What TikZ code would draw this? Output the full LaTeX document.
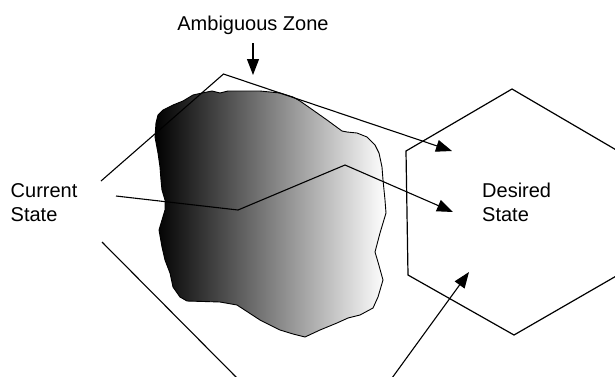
\documentclass[tikz,border=0pt]{standalone}
\usepackage{fontspec}
\setmainfont{Liberation Sans}
\usetikzlibrary{arrows.meta}

\begin{document}
\begin{tikzpicture}[
      x=1pt, y=-1pt,
      font=\fontsize{20}{24}\selectfont,
      lbl/.style={inner sep=0pt, align=left},
      conn/.style={-{Triangle[length=16pt, width=12pt]}, line width=1.1pt, line join=miter},
      zone/.style={draw=black, line width=0.9pt, left color=black, right color=white},
      target/.style={draw=black, line width=1.2pt}
    ]
    \clip (0,0) rectangle (615,376);
    %% labels
    \node[lbl, anchor=base] (amb) at (253,30) {Ambiguous Zone};
    \node[lbl, anchor=base west] (cur) at (10.5,221) {Current\\State};
    \node[lbl, anchor=base west] (des) at (482,221) {Desired\\State};
    %% ambiguous zone
    \draw[zone] (156,123) -- (158,115) -- (163,110) -- (173,105) -- (183,101) -- (193,95)
      -- (202,93) -- (212,91) -- (220,93) -- (228,91) -- (240,91) -- (260,91) -- (280,93)
      -- (293,97) -- (300,101) -- (310,108) -- (327,120) -- (342,131) -- (347,132)
      -- (357,133) -- (367,137) -- (375,145) -- (379,153) -- (382,167) -- (383,180)
      -- (385,200) -- (386,213) -- (380,233) -- (375,252) -- (378,262) -- (383,280)
      -- (378,297) -- (373,308) -- (360,315) -- (348,318) -- (337,323) -- (320,330)
      -- (305,337) -- (293,334) -- (280,330) -- (260,320) -- (237,305) -- (220,302)
      -- (187,301) -- (180,297) -- (173,287) -- (170,273) -- (165,260) -- (162,247)
      -- (159,230) -- (162,220) -- (165,210) -- (165,200) -- (162,190) -- (161,180)
      -- (160,167) -- (158,153) -- (155,137) -- cycle;
    %% desired state
    \draw[target] (512,89) -- (618,151) -- (618,275) -- (514,335) -- (408,275) -- (406,151) -- cycle;
    %% connector ends
    \coordinate (ambtip) at (253,75);
    \coordinate (c1) at (101,181);
    \coordinate (c2) at (116,196);
    \coordinate (c3) at (102,242);
    \coordinate (d1) at (452,151);
    \coordinate (d2) at (453,212);
    \coordinate (d3) at (469,272);
    \coordinate (low1) at (237,378);
    \coordinate (low2) at (392,378);
    %% connectors
    \draw[conn] (253,43) -- (ambtip);
    \draw[conn] (c1) -- (223.5,74) -- (d1);
    \draw[conn] (c2) -- (238,210) -- (345,165) -- (d2);
    \draw[line width=1.1pt] (c3) -- (low1);
    \draw[conn] (low2) -- (d3);
  \end{tikzpicture}
\end{document}
